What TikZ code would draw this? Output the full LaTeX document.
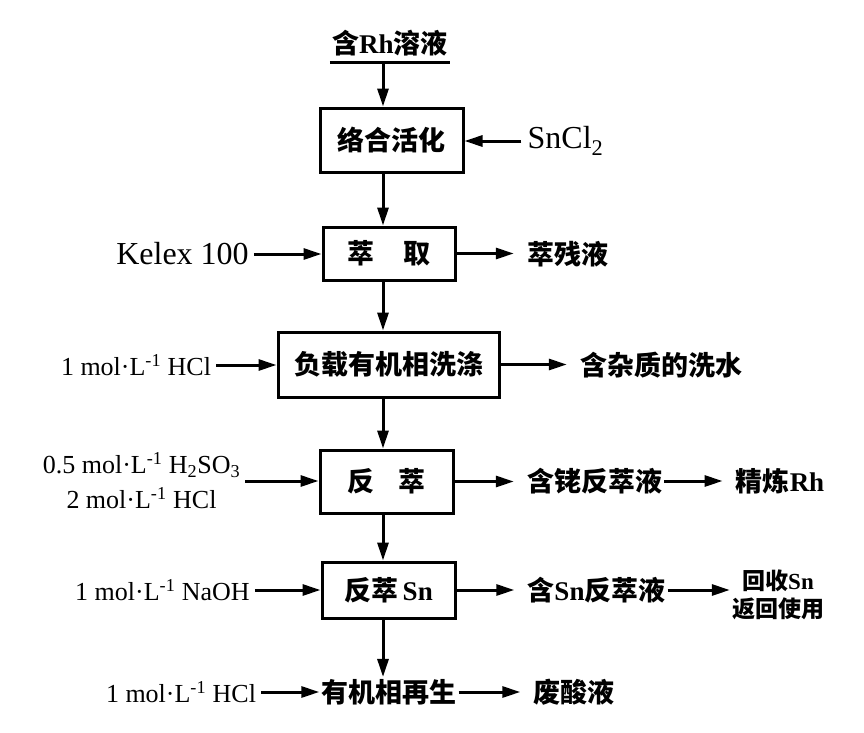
\documentclass[tikz,border=0pt]{standalone}
\usepackage{fontspec}
\setmainfont{Liberation Serif}
\newfontfamily\cjk{Noto Sans CJK SC}
\usetikzlibrary{arrows.meta, positioning}
\newcommand{\lat}[1]{{\rmfamily #1}}
\tikzset{%
	unit/.style={draw, rectangle, line width=3pt, inner sep=0mm,%
		font=\cjk\bfseries\fontsize{27}{30}\selectfont},
	flow/.style={-{Triangle[length=18pt, width=11pt]}, line width=3pt},
	outflow/.style={flow, shorten >=11pt},
	reagent/.style={inner xsep=5pt, inner ysep=2pt, font=\fontsize{26}{35}\selectfont},
	bigreagent/.style={reagent, font=\fontsize{32}{36}\selectfont},
	product/.style={inner sep=2pt, font=\cjk\bfseries\fontsize{27}{30}\selectfont}
}
\begin{document}
\begin{tikzpicture}[x=1pt, y=-1pt]
	\useasboundingbox (0,0) rectangle (864,732);
	\coordinate (spine) at (383,0);

	\node[unit, minimum width=143pt, minimum height=64pt] (mix) at (391.5,140) {络合活化};
	\node[unit, minimum width=132pt, minimum height=53pt] (ext) at (389,253.5) {萃\hspace{1.1em}取};
	\node[unit, minimum width=221pt, minimum height=65pt] (wash) at (388.5,364.5) {负载有机相洗涤};
	\node[unit, minimum width=133pt, minimum height=63pt] (strip) at (386.5,481.5) {反\hspace{0.9em}萃};
	\node[unit, minimum width=133pt, minimum height=56pt] (stripsn) at (388.5,590) {反萃\lat{\,Sn}};
	\node[product] (regen) at (389,692) {有机相再生};

	% feed on top
	\node[product, anchor=south, minimum width=120pt, inner xsep=0pt, inner ysep=6pt] (feed) at (390,62) {含\lat{Rh}溶液};
	\draw[line width=3pt] (feed.south west) -- (feed.south east);

	\draw[flow] (feed.south -| spine) -- (mix.north -| spine);
	\draw[flow] (mix.south -| spine) -- (ext.north -| spine);
	\draw[flow] (ext.south -| spine) -- (wash.north -| spine);
	\draw[flow] (wash.south -| spine) -- (strip.north -| spine);
	\draw[flow] (strip.south -| spine) -- (stripsn.north -| spine);
	\draw[flow] (stripsn.south -| spine) -- (regen.north -| spine);

	% reagents in
	\node[bigreagent, inner xsep=6pt] (sncl) at (565.5,141) {SnCl\textsubscript{2}};
	\node[bigreagent] (kelex) at (182.5,254) {Kelex 100};
	\node[reagent] (hcla) at (136,365) {1 mol·L\textsuperscript{-1} HCl};
	\node[reagent, align=center] (acid) at (141.5,481) {0.5 mol·L\textsuperscript{-1} H\textsubscript{2}SO\textsubscript{3}\\2 mol·L\textsuperscript{-1} HCl};
	\node[reagent] (naoh) at (162.5,590) {1 mol·L\textsuperscript{-1} NaOH};
	\node[reagent] (hclb) at (181,692) {1 mol·L\textsuperscript{-1} HCl};

	\draw[flow] (sncl.west) -- (sncl.west -| mix.east);
	\draw[flow] (kelex.east) -- (kelex.east -| ext.west);
	\draw[flow] (hcla.east) -- (hcla.east -| wash.west);
	\draw[flow] (acid.east) -- (acid.east -| strip.west);
	\draw[flow] (naoh.east) -- (naoh.east -| stripsn.west);
	\draw[flow] (hclb.east) -- (regen.west);

	% products out
	\node[product] (raff) at (567.5,254) {萃残液};
	\node[product] (water) at (661,365) {含杂质的洗水};
	\node[product] (rhsol) at (594.5,481) {含铑反萃液};
	\node[product] (refine) at (780,481) {精炼\lat{\textbf{Rh}}};
	\node[product] (snsol) at (596.5,590) {含\lat{Sn}反萃液};
	\node[product, align=center, font=\cjk\bfseries\fontsize{23}{28}\selectfont] (reuse) at (778,595) {回收\lat{Sn}\\返回使用};
	\node[product] (waste) at (574,692) {废酸液};

	\draw[outflow] (ext.east) -- (ext.east -| raff.west);
	\draw[outflow] (wash.east) -- (wash.east -| water.west);
	\draw[outflow] (strip.east) -- (strip.east -| rhsol.west);
	\draw[outflow] (rhsol.east) -- (refine.west);
	\draw[outflow] (stripsn.east) -- (stripsn.east -| snsol.west);
	\draw[flow] (snsol.east) -- (snsol.east -| reuse.west);
	\draw[outflow] (regen.east) -- (waste.west);
\end{tikzpicture}
\end{document}
